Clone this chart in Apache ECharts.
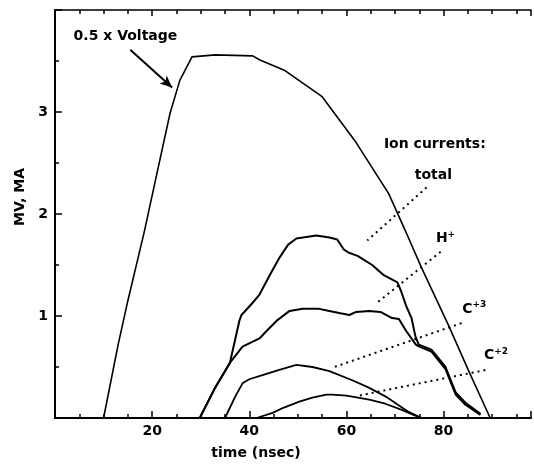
<!DOCTYPE html>
<html>
<head>
<meta charset="utf-8">
<script src="https://cdn.jsdelivr.net/npm/echarts@6/dist/echarts.min.js"></script>
<style>
  html, body { margin: 0; padding: 0; background: #fff; }
  #chart { width: 534px; height: 466px; }
</style>
</head>
<body>
<div id="chart"></div>
<script>
// curves: [time (nsec), MV or MA]
var voltage = [[10,0],[13,0.72],[15,1.15],[18.4,1.83],[21,2.4],[23.7,2.99],[25.7,3.31],[28.2,3.54],
  [33,3.56],[40.7,3.55],[42.2,3.51],[47.2,3.41],[55,3.15],[62,2.7],[68.7,2.2],[72,1.85],
  [75.5,1.47],[81,0.91],[85.1,0.47],[89.6,0]];
var total = [[29.8,0],[33,0.3],[36,0.54],[38,0.96],[38.4,1.01],[40.7,1.13],[42.1,1.21],[44.2,1.4],
  [46.2,1.57],[48,1.7],[49.7,1.76],[53.8,1.79],[56.5,1.77],[58.1,1.75],[59.5,1.65],[60.5,1.62],
  [62.3,1.59],[65.3,1.5],[67.7,1.4],[70.5,1.33],[71.2,1.25],[72.3,1.1],[73.4,0.98],[74.2,0.8],
  [74.9,0.72],[77.5,0.67],[80.4,0.5],[82.5,0.25],[84.5,0.15],[87.6,0.04]];
var hplus = [[29.8,0],[33,0.3],[36,0.54],[38.6,0.7],[42.1,0.78],[43.5,0.85],[45.8,0.96],[48.3,1.05],
  [51,1.07],[54.4,1.07],[56.5,1.05],[58.5,1.03],[60.6,1.01],[62,1.04],[64.7,1.05],[67,1.04],
  [69.4,0.98],[70.8,0.97],[72.2,0.86],[74.3,0.72],[75,0.7],[77.5,0.65],[80.4,0.48],[82.5,0.23],
  [84.5,0.13],[87.6,0.03]];
var c3 = [[35,0],[37,0.2],[38.6,0.34],[40,0.38],[42.7,0.42],[46,0.47],[49.7,0.52],[53,0.5],
  [56.5,0.46],[61.2,0.37],[64.5,0.3],[68.1,0.21],[72.8,0.06],[75.5,0]];
var c2 = [[41.5,0],[44.8,0.05],[47,0.1],[50.3,0.16],[53,0.2],[55.9,0.23],[57.1,0.23],[60,0.22],
  [64.7,0.18],[68,0.14],[71.4,0.08],[74.3,0.02],[75.5,0]];

// annotations, in data coordinates
var labels = [
  { name: '{b|0.5 x Voltage}', value: [14.5, 3.74] },
  { name: '{b|Ion currents:}', value: [78.2, 2.68] },
  { name: '{b|total}', value: [77.9, 2.38] },
  { name: '{b|H}{s|+}', value: [80.4, 1.76] },
  { name: '{b|C}{s|+3}', value: [86.3, 1.07] },
  { name: '{b|C}{s|+2}', value: [90.8, 0.61] }
];
var arrow = [[15.5, 3.61], [24.1, 3.24]];
var leaders = [
  [[76.5, 2.26], [64.3, 1.74]],
  [[79.4, 1.63], [66.3, 1.13]],
  [[83.7, 0.93], [57.5, 0.5]],
  [[88.6, 0.47], [62.6, 0.22]]
];

var font = 'DejaVu Sans';
var chart = echarts.init(document.getElementById('chart'));

function curve(name, data, w) {
  return {
    name: name, type: 'line', data: data, symbol: 'none', silent: true,
    lineStyle: { color: '#000', width: w }
  };
}

chart.setOption({
  animation: false,
  grid: { left: 55, right: 1, top: 10, bottom: 48 },
  xAxis: [{
    type: 'value', min: 0, max: 98, interval: 20,
    name: 'time (nsec)', nameLocation: 'middle', nameGap: 28,
    nameTextStyle: { fontFamily: font, fontWeight: 'bold', fontSize: 14, color: '#000', padding: [0, 74, 0, 0] },
    axisLine: { lineStyle: { color: '#000', width: 2 } },
    axisTick: { inside: true, length: 7, lineStyle: { color: '#000', width: 1.5 } },
    minorTick: { show: true, splitNumber: 4, length: 4, lineStyle: { color: '#000', width: 1.5 } },
    splitLine: { show: false },
    axisLabel: {
      fontFamily: font, fontWeight: 'bold', fontSize: 14, color: '#000', margin: 6,
      formatter: function (v) { return (v === 0 || v === 98) ? '' : v; }
    }
  }, {
    type: 'value', min: 0, max: 98, interval: 20, position: 'top',
    axisLine: { lineStyle: { color: '#000', width: 1.5 } },
    axisTick: { inside: true, length: 6, lineStyle: { color: '#000', width: 1.5 } },
    minorTick: { show: true, splitNumber: 4, length: 4, lineStyle: { color: '#000', width: 1.5 } },
    splitLine: { show: false },
    axisLabel: { show: false }
  }],
  yAxis: {
    type: 'value', min: 0, max: 4, interval: 1,
    name: 'MV, MA', nameLocation: 'middle', nameGap: 28,
    nameTextStyle: { fontFamily: font, fontWeight: 'bold', fontSize: 14, color: '#000', padding: [0, 0, 0, 34] },
    axisLine: { show: true, lineStyle: { color: '#000', width: 2 } },
    axisTick: { inside: true, length: 7, lineStyle: { color: '#000', width: 1.5 } },
    minorTick: { show: true, splitNumber: 2, length: 4, lineStyle: { color: '#000', width: 1.5 } },
    splitLine: { show: false },
    axisLabel: {
      fontFamily: font, fontWeight: 'bold', fontSize: 14, color: '#000', margin: 7,
      formatter: function (v) { return (v === 0 || v === 4) ? '' : v; }
    }
  },
  series: [
    curve('voltage', voltage, 1.6),
    curve('total', total, 2),
    curve('H+', hplus, 2),
    curve('C+3', c3, 1.8),
    curve('C+2', c2, 1.8),
    {
      type: 'scatter', data: labels, symbolSize: 0, silent: true,
      itemStyle: { color: '#000', opacity: 1 },
      label: {
        show: true, position: 'inside', color: '#000', textBorderWidth: 0,
        formatter: function (p) { return p.name; },
        rich: {
          b: { fontFamily: font, fontWeight: 'bold', fontSize: 14, color: '#000', textBorderWidth: 0 },
          s: { fontFamily: font, fontWeight: 'bold', fontSize: 9, color: '#000', textBorderWidth: 0, verticalAlign: 'top', padding: [0, 0, 8, 0] }
        }
      },
      markLine: {
        silent: true, animation: false, label: { show: false },
        data: [[
          { coord: arrow[0], symbol: 'none', lineStyle: { type: 'solid', width: 2, color: '#000' } },
          { coord: arrow[1], symbol: 'arrow', symbolSize: [8, 12] }
        ]].concat(leaders.map(function (l) {
          return [
            { coord: l[0], symbol: 'none', lineStyle: { type: [2, 4], width: 2, color: '#000' } },
            { coord: l[1], symbol: 'none' }
          ];
        }))
      }
    }
  ]
});
</script>
</body>
</html>
